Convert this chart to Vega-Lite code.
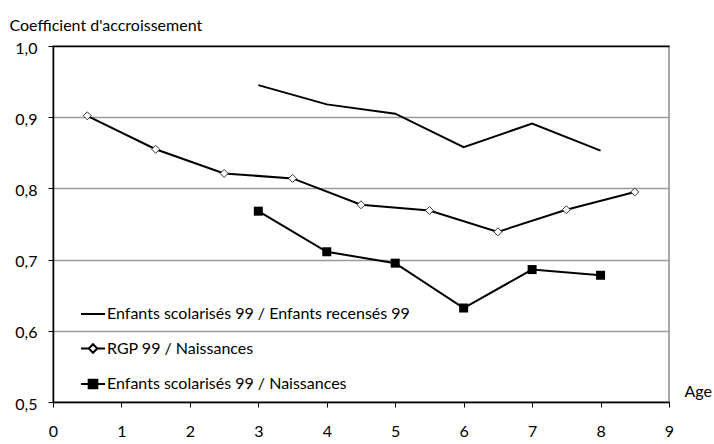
{
  "$schema": "https://vega.github.io/schema/vega-lite/v6.json",
  "autosize": {"type": "none"},
  "width": 616,
  "height": 356,
  "padding": {"left": 53, "top": 46, "right": 45, "bottom": 42},
  "background": "white",
  "config": {
    "font": "Lato",
    "view": {"stroke": "#8c8c8c", "strokeWidth": 1.5},
    "axis": {"labelFont": "Lato", "titleFont": "Lato", "labelColor": "black", "titleColor": "black", "labelFontSize": 16, "titleFontSize": 16, "titleFontWeight": "normal"}
  },
  "data": {
    "values": [
      {"age": 3, "coef": 0.945, "serie": "Enfants scolarisés 99 / Enfants recensés 99"},
      {"age": 4, "coef": 0.918, "serie": "Enfants scolarisés 99 / Enfants recensés 99"},
      {"age": 5, "coef": 0.905, "serie": "Enfants scolarisés 99 / Enfants recensés 99"},
      {"age": 6, "coef": 0.858, "serie": "Enfants scolarisés 99 / Enfants recensés 99"},
      {"age": 7, "coef": 0.891, "serie": "Enfants scolarisés 99 / Enfants recensés 99"},
      {"age": 8, "coef": 0.853, "serie": "Enfants scolarisés 99 / Enfants recensés 99"},
      {"age": 0.5, "coef": 0.902, "serie": "RGP 99 / Naissances"},
      {"age": 1.5, "coef": 0.855, "serie": "RGP 99 / Naissances"},
      {"age": 2.5, "coef": 0.821, "serie": "RGP 99 / Naissances"},
      {"age": 3.5, "coef": 0.814, "serie": "RGP 99 / Naissances"},
      {"age": 4.5, "coef": 0.777, "serie": "RGP 99 / Naissances"},
      {"age": 5.5, "coef": 0.769, "serie": "RGP 99 / Naissances"},
      {"age": 6.5, "coef": 0.739, "serie": "RGP 99 / Naissances"},
      {"age": 7.5, "coef": 0.770, "serie": "RGP 99 / Naissances"},
      {"age": 8.5, "coef": 0.795, "serie": "RGP 99 / Naissances"},
      {"age": 3, "coef": 0.768, "serie": "Enfants scolarisés 99 / Naissances"},
      {"age": 4, "coef": 0.711, "serie": "Enfants scolarisés 99 / Naissances"},
      {"age": 5, "coef": 0.695, "serie": "Enfants scolarisés 99 / Naissances"},
      {"age": 6, "coef": 0.632, "serie": "Enfants scolarisés 99 / Naissances"},
      {"age": 7, "coef": 0.686, "serie": "Enfants scolarisés 99 / Naissances"},
      {"age": 8, "coef": 0.678, "serie": "Enfants scolarisés 99 / Naissances"}
    ]
  },
  "encoding": {
    "x": {
      "field": "age", "type": "quantitative",
      "scale": {"domain": [0, 9], "nice": false, "zero": false},
      "axis": {
        "values": [0, 1, 2, 3, 4, 5, 6, 7, 8, 9],
        "grid": false, "domainColor": "black", "domainWidth": 1.5,
        "tickColor": "black", "tickSize": 5, "tickWidth": 1,
        "labelPadding": 16, "labelFlush": false,
        "title": "Age", "titleAngle": 0, "titleX": 631, "titleY": -6,
        "titleAlign": "left", "titleBaseline": "alphabetic"
      }
    },
    "y": {
      "field": "coef", "type": "quantitative",
      "scale": {"domain": [0.5, 1.0], "nice": false, "zero": false},
      "axis": {
        "values": [0.5, 0.6, 0.7, 0.8, 0.9, 1.0],
        "labelExpr": "replace(format(datum.value, '.1f'), '.', ',')",
        "grid": true,
        "gridColor": {"condition": {"test": "datum.value >= 0.99", "value": "black"}, "value": "#9a9a9a"},
        "gridWidth": 1.5,
        "domainColor": "black", "domainWidth": 1.5,
        "tickColor": "black", "tickSize": 5, "tickWidth": 1,
        "labelPadding": 11, "labelFlush": false, "labelOffset": 2,
        "title": "Coefficient d'accroissement", "titleAngle": 0,
        "titleX": -44, "titleY": -15.5, "titleAlign": "left", "titleBaseline": "alphabetic"
      }
    }
  },
  "layer": [
    {
      "mark": {"type": "line", "strokeWidth": 2},
      "encoding": {
        "color": {
          "field": "serie", "type": "nominal",
          "scale": {
            "domain": ["Enfants scolarisés 99 / Enfants recensés 99", "RGP 99 / Naissances", "Enfants scolarisés 99 / Naissances"],
            "range": ["black", "black", "black"]
          },
          "legend": {
            "orient": "none", "legendX": 27, "legendY": 255,
            "title": null, "symbolSize": 576, "rowPadding": 13.5,
            "labelFont": "Lato", "labelFontSize": 16, "labelColor": "black", "labelOffset": 1,
            "labelLimit": 400,
            "encode": {
              "symbols": {
                "update": {
                  "shape": [
                    {"test": "datum.value === 'RGP 99 / Naissances'", "value": "M-1,0H-0.36M0.36,0H1M0,-0.36L0.36,0L0,0.36L-0.36,0Z"},
                    {"test": "datum.value === 'Enfants scolarisés 99 / Naissances'", "value": "M-1,0H1M-0.36,-0.36H0.36V0.36H-0.36Z"},
                    {"value": "M-1,0H1"}
                  ],
                  "fill": [
                    {"test": "datum.value === 'RGP 99 / Naissances'", "value": "white"},
                    {"test": "datum.value === 'Enfants scolarisés 99 / Naissances'", "value": "black"},
                    {"value": "transparent"}
                  ],
                  "fillOpacity": {"value": 1},
                  "stroke": {"value": "black"},
                  "strokeWidth": {"value": 2}
                }
              }
            }
          }
        }
      }
    },
    {
      "transform": [{"filter": "datum.serie === 'RGP 99 / Naissances'"}],
      "mark": {"type": "point", "shape": "diamond", "filled": true, "fill": "white", "stroke": "#333333", "strokeWidth": 1, "size": 64, "opacity": 1}
    },
    {
      "transform": [{"filter": "datum.serie === 'Enfants scolarisés 99 / Naissances'"}],
      "mark": {"type": "point", "shape": "square", "filled": true, "fill": "black", "stroke": "black", "strokeWidth": 0, "size": 81, "opacity": 1}
    }
  ]
}
